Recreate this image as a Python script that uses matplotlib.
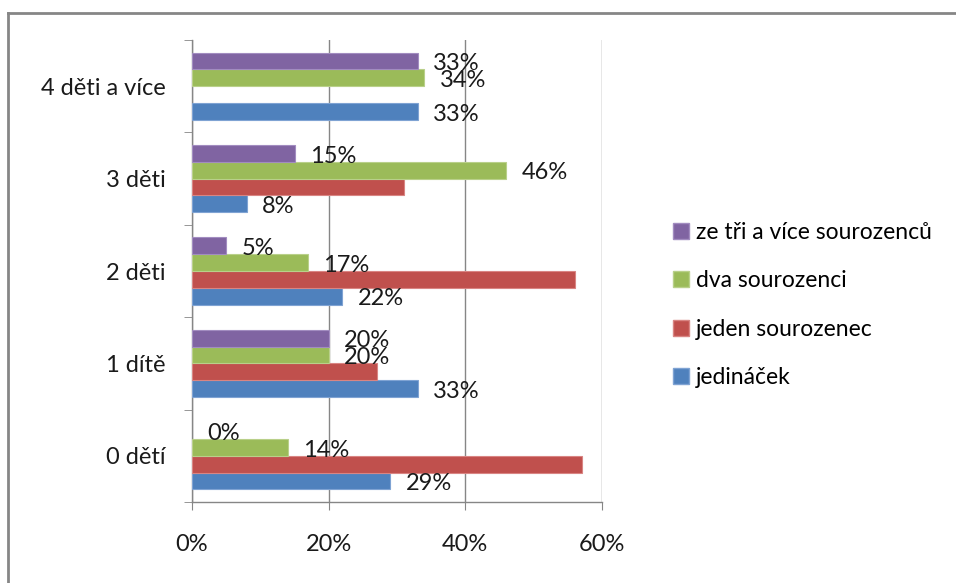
import matplotlib
matplotlib.use("Agg")
import matplotlib.pyplot as plt
from matplotlib.lines import Line2D
from matplotlib.patches import Patch
import numpy as np

plt.rcParams['font.family'] = ['Lato', 'DejaVu Sans']

categories = ["0 dětí", "1 dítě", "2 děti", "3 děti", "4 děti a více"]
series_names = ["jedináček", "jeden sourozenec", "dva sourozenci", "ze tři a více sourozenců"]
jedinacek = [29, 33, 22, 8, 33]
jeden_sourozenec = [57, 27, 56, 31, 0]
dva_sourozenci = [14, 20, 17, 46, 34]
tri_a_vice = [0, 20, 5, 15, 33]
show_labels = [True, False, True, True]
colors = ["#4F81BD", "#C0504D", "#9BBB59", "#8064A2"]
edge_colors = ["#7FA3D3", "#D98583", "#B9D08A", "#A28CC0"]
x_ticks = [0, 20, 40, 60]
x_tick_labels = ["0%", "20%", "40%", "60%"]

W, H = 956, 583
fig = plt.figure(figsize=(W / 100, H / 100), dpi=100)
ax = fig.add_axes([192 / W, 1 - 502 / H, (602 - 192) / W, (502 - 40) / H])

data = [jedinacek, jeden_sourozenec, dva_sourozenci, tri_a_vice]
n = len(data)
h = 1 / (n + 1.5)
y = np.arange(len(categories))
fs = 17
for i, (vals, c, ec, lab) in enumerate(zip(data, colors, edge_colors, show_labels)):
    offs = (i - (n - 1) / 2) * h
    lws = [0.8 if v > 0 else 0 for v in vals]
    ax.barh(y + offs, vals, height=h, color=c, edgecolor=ec, linewidth=lws, zorder=3)
    if lab:
        for yy, v in zip(y + offs, vals):
            ax.annotate(f"{v}%", xy=(v, yy), xytext=(11, -2), textcoords="offset points",
                        ha="left", va="center", fontsize=fs, color="#1a1a1a", zorder=4)

ax.set_xlim(0, 60)
ax.set_ylim(-0.5, len(categories) - 0.5)
ax.set_xticks(x_ticks)
ax.set_xticklabels(x_tick_labels, fontsize=fs, color="#1a1a1a")
ax.set_yticks(y)
ax.set_yticklabels(categories, fontsize=fs, color="#1a1a1a")
ax.tick_params(axis='y', length=0, pad=19)
ax.set_yticks(np.arange(-0.5, len(categories), 1), minor=True)
ax.tick_params(axis='y', which='minor', length=6, color="#868686", direction='out')
ax.tick_params(axis='x', length=6, color="#868686", direction='out', pad=17)
ax.grid(axis='x', color="#868686", linewidth=1, zorder=0)
for s in ['top', 'right']:
    ax.spines[s].set_visible(False)
for s in ['left', 'bottom']:
    ax.spines[s].set_color("#868686")
    ax.spines[s].set_linewidth(1)

handles = [Patch(facecolor=colors[i], edgecolor=edge_colors[i]) for i in range(n)][::-1]
leg = fig.legend(handles, series_names[::-1], loc='upper left',
                 bbox_to_anchor=(652 / W, 1 - 201 / H), frameon=False,
                 fontsize=16.5, handlelength=0.7, handleheight=0.7,
                 handletextpad=0.3, labelspacing=1.2)

fig.add_artist(Line2D([8 / W, 1], [1 - 13 / H, 1 - 13 / H], transform=fig.transFigure,
                      color="#868686", linewidth=2))
fig.add_artist(Line2D([8 / W, 8 / W], [0, 1 - 13 / H], transform=fig.transFigure,
                      color="#868686", linewidth=2))

fig.savefig("out.png", dpi=100)
